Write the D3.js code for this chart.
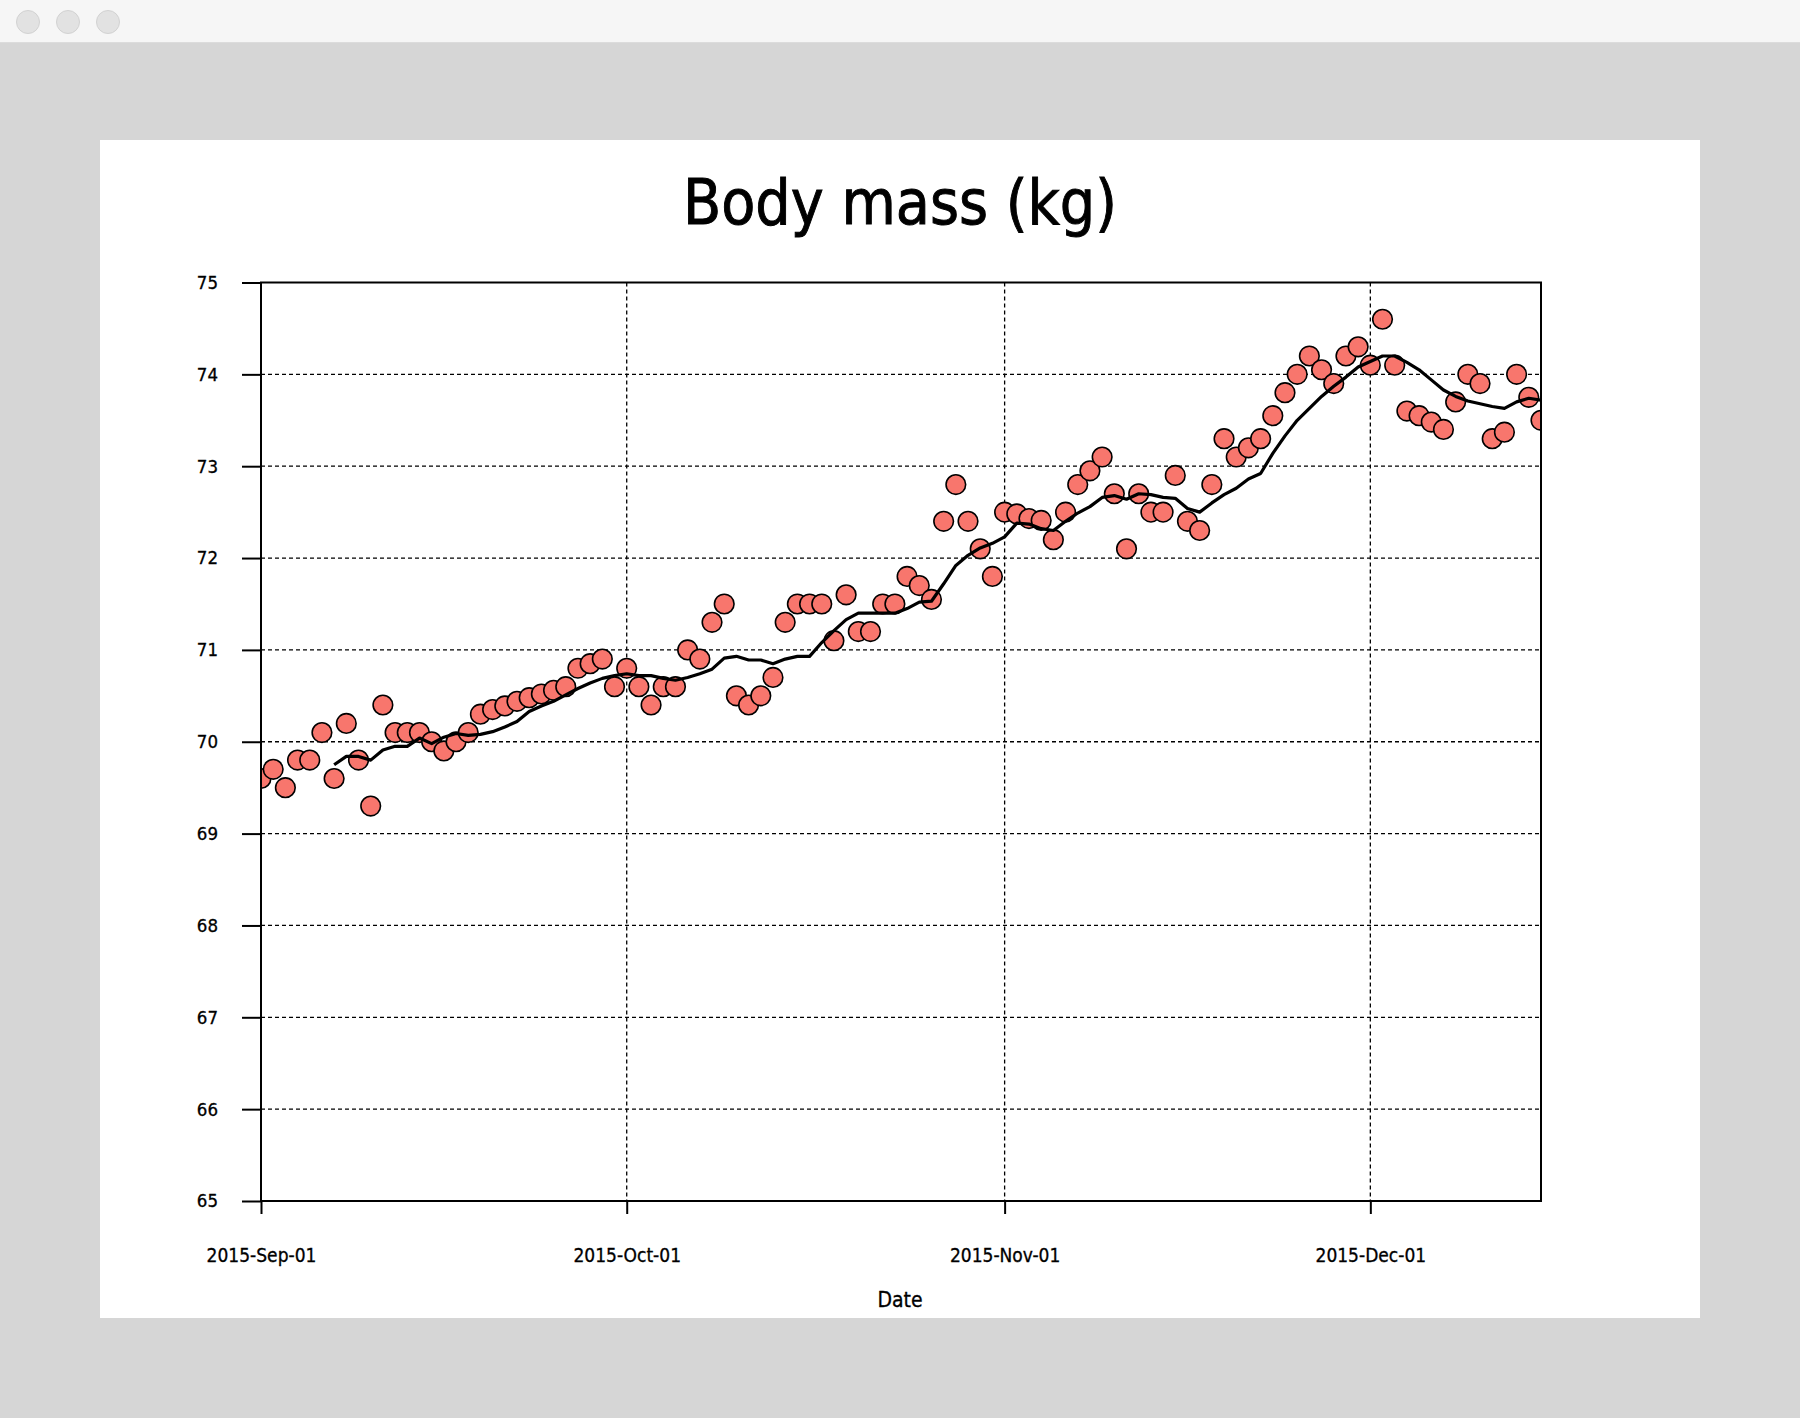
<!DOCTYPE html>
<html lang="en">

<head>
  <meta charset="UTF-8">
  <title>Body mass (kg)</title>
  <script src="https://d3js.org/d3.v7.min.js"></script>
  <style>
    body {
      margin: 0;
      background: #d6d6d6;
    }

    svg text {
      font-family: Tahoma, "DejaVu Sans Condensed", "DejaVu Sans", sans-serif;
      font-stretch: condensed;
      fill: #000;
      stroke: #000;
      stroke-width: 0.3;
    }

    .grid line {
      stroke: #000;
      stroke-width: 1.3;
      stroke-dasharray: 4, 3;
    }
  </style>
</head>

<body>
  <script>
    // daily readings, one per day from startDate
    var startDate = "2015-09-01"
    var mass = [
      // Sep
      69.6, 69.7, 69.5, 69.8, 69.8, 70.1, 69.6, 70.2, 69.8, 69.3,
      70.4, 70.1, 70.1, 70.1, 70.0, 69.9, 70.0, 70.1, 70.3, 70.35,
      70.39, 70.44, 70.48, 70.52, 70.56, 70.6, 70.8, 70.85, 70.9, 70.6,
      // Oct
      70.8, 70.6, 70.4, 70.6, 70.6, 71.0, 70.9, 71.3, 71.5, 70.5,
      70.4, 70.5, 70.7, 71.3, 71.5, 71.5, 71.5, 71.1, 71.6, 71.2,
      71.2, 71.5, 71.5, 71.8, 71.7, 71.55, 72.4, 72.8, 72.4, 72.1, 71.8,
      // Nov
      72.5, 72.48, 72.43, 72.41, 72.2, 72.5, 72.8, 72.95, 73.1, 72.7,
      72.1, 72.7, 72.5, 72.5, 72.9, 72.4, 72.3, 72.8, 73.3, 73.1,
      73.2, 73.3, 73.55, 73.8, 74.0, 74.2, 74.05, 73.9, 74.2, 74.3,
      // Dec
      74.1, 74.6, 74.1, 73.6, 73.55, 73.48, 73.4, 73.7, 74.0, 73.9,
      73.3, 73.37, 74.0, 73.75, 73.5
    ]

    // smoothed line, daily from trendStart
    var trendStart = "2015-09-07"
    var trend = [
      69.75, 69.84, 69.84, 69.8, 69.91, 69.95, 69.95, 70.04, 69.98, 70.05,
      70.09, 70.07, 70.08, 70.11, 70.16, 70.22, 70.33, 70.39, 70.44, 70.51,
      70.58, 70.64, 70.69, 70.72,
      70.74, 70.72, 70.72, 70.69, 70.67, 70.70, 70.74, 70.79, 70.91, 70.93,
      70.89, 70.89, 70.85, 70.90, 70.93, 70.93, 71.08, 71.21, 71.33, 71.40,
      71.40, 71.40, 71.40, 71.45, 71.52, 71.53, 71.72, 71.92, 72.03, 72.11, 72.16,
      72.23, 72.38, 72.37, 72.32, 72.30, 72.40, 72.49, 72.56, 72.66, 72.68,
      72.64, 72.70, 72.69, 72.66, 72.65, 72.54, 72.50, 72.60, 72.69, 72.76,
      72.86, 72.92, 73.14, 73.33, 73.50, 73.63, 73.76, 73.87, 73.97, 74.08,
      74.14, 74.20, 74.20, 74.13, 74.05, 73.94, 73.83, 73.76, 73.71, 73.68,
      73.65, 73.63, 73.70, 73.74, 73.72
    ]

    var xDomain = ["2015-09-01", "2015-12-15"]
    var xTicks = ["2015-09-01", "2015-10-01", "2015-11-01", "2015-12-01"]
    var yTicks = [65, 66, 67, 68, 69, 70, 71, 72, 73, 74, 75]

    W = 1800
    H = 1418
    margin = { top: 282.5, right: 259, bottom: 217, left: 261 }
    width = W - margin.left - margin.right
    height = H - margin.top - margin.bottom

    var parse = d3.utcParse("%Y-%m-%d")
    var fmt = d3.utcFormat("%Y-%b-%d")

    var points = mass.map(function (v, i) {
      return { date: d3.utcDay.offset(parse(startDate), i), value: v }
    })
    var trendPts = trend.map(function (v, i) {
      return { date: d3.utcDay.offset(parse(trendStart), i), value: v }
    })

    var x = d3.scaleUtc().domain(xDomain.map(parse)).range([0, width])
    var y = d3.scaleLinear().domain([65, 75]).range([height, 0])

    var svg = d3.select("body").append("svg")
      .attr("width", W)
      .attr("height", H)

    // window chrome
    svg.append("rect")
      .attr("width", W).attr("height", H)
      .attr("fill", "#d6d6d6")
    svg.append("rect")
      .attr("width", W).attr("height", 42)
      .attr("fill", "#f6f6f6")
    svg.append("line")
      .attr("x1", 0).attr("x2", W)
      .attr("y1", 42.5).attr("y2", 42.5)
      .attr("stroke", "#dcdcdc")
    svg.selectAll(".dot-btn")
      .data([28, 68, 108])
      .enter().append("circle")
      .attr("cx", function (d) { return d })
      .attr("cy", 22)
      .attr("r", 11.5)
      .attr("fill", "#e2e2e2")
      .attr("stroke", "#d2d2d2")

    // white panel
    svg.append("rect")
      .attr("x", 100).attr("y", 140)
      .attr("width", 1600).attr("height", 1178)
      .attr("fill", "#fff")

    svg.append("text")
      .attr("x", 900)
      .attr("y", 224)
      .attr("text-anchor", "middle")
      .attr("font-size", 62)
      .style("stroke-width", 0.9)
      .text("Body mass (kg)")

    var g = svg.append("g")
      .attr("transform", "translate(" + margin.left + "," + margin.top + ")")

    g.append("clipPath").attr("id", "clip")
      .append("rect")
      .attr("width", width).attr("height", height)

    // grid
    var grid = g.append("g").attr("class", "grid")
    grid.selectAll(".h")
      .data(yTicks.slice(1, -1))
      .enter().append("line")
      .attr("x1", 0).attr("x2", width)
      .attr("y1", function (d) { return y(d) })
      .attr("y2", function (d) { return y(d) })
    grid.selectAll(".v")
      .data(xTicks.slice(1).map(parse))
      .enter().append("line")
      .attr("y1", 0).attr("y2", height)
      .attr("x1", function (d) { return x(d) })
      .attr("x2", function (d) { return x(d) })

    // axes
    var xAxis = g.append("g")
      .attr("transform", "translate(0," + height + ")")
      .call(d3.axisBottom(x)
        .tickValues(xTicks.map(parse))
        .tickFormat(fmt)
        .tickSize(13))
    xAxis.select(".domain").remove()
    xAxis.selectAll("line").attr("stroke-width", 2)
    xAxis.selectAll("text")
      .attr("y", 61).attr("dy", 0)
      .attr("font-size", 19)

    var yAxis = g.append("g")
      .call(d3.axisLeft(y)
        .tickValues(yTicks)
        .tickFormat(d3.format("d"))
        .tickSize(19)
        .tickPadding(24))
    yAxis.select(".domain").remove()
    yAxis.selectAll("line").attr("stroke-width", 2)
    yAxis.selectAll("text")
      .attr("font-size", 18.5)

    xAxis.attr("font-family", null)
    yAxis.attr("font-family", null)

    // data
    var plot = g.append("g").attr("clip-path", "url(#clip)")

    plot.selectAll(".pt")
      .data(points)
      .enter().append("circle")
      .attr("class", "pt")
      .attr("cx", function (d) { return x(d.date) })
      .attr("cy", function (d) { return y(d.value) })
      .attr("r", 9.8)
      .attr("fill", "#f8766d")
      .attr("stroke", "#000")
      .attr("stroke-width", 1.6)

    plot.append("path")
      .datum(trendPts)
      .attr("fill", "none")
      .attr("stroke", "#000")
      .attr("stroke-width", 3.2)
      .attr("stroke-linejoin", "round")
      .attr("d", d3.line()
        .x(function (d) { return x(d.date) })
        .y(function (d) { return y(d.value) }))

    // frame
    g.append("rect")
      .attr("width", width).attr("height", height)
      .attr("fill", "none")
      .attr("stroke", "#000")
      .attr("stroke-width", 2)

    svg.append("text")
      .attr("x", 900)
      .attr("y", 1307)
      .attr("text-anchor", "middle")
      .attr("font-size", 21)
      .text("Date")
  </script>
</body>

</html>
